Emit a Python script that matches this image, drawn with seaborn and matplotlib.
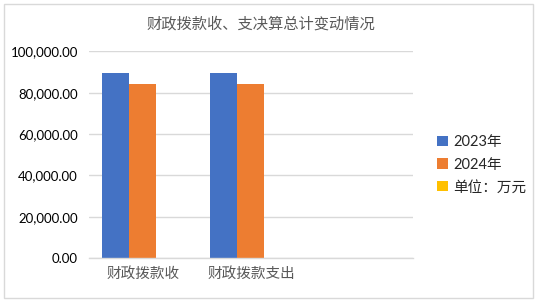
import matplotlib
matplotlib.use("Agg")
import matplotlib.pyplot as plt
import seaborn as sns
import pandas as pd
import numpy as np
from matplotlib.ticker import FuncFormatter, MultipleLocator
from matplotlib.patches import Rectangle

categories = ["财政拨款收", "财政拨款支出", " "]
series_names = ["2023年", "2024年", "单位：万元"]
values_2023 = [89800, 89800, np.nan]
values_2024 = [84400, 84400, np.nan]
values_unit = [np.nan, np.nan, np.nan]
colors = ["#4472C4", "#ED7D31", "#FFC000"]

rows = []
for name, vals in zip(series_names, [values_2023, values_2024, values_unit]):
    for c, v in zip(categories, vals):
        rows.append({"category": c, "series": name, "value": v})
df = pd.DataFrame(rows)

sns.set_theme(style="white")
plt.rcParams["font.family"] = ["Lato", "Noto Sans CJK SC", "DejaVu Sans"]

fig = plt.figure(figsize=(5.37, 3.02), dpi=100)
ax = fig.add_axes([0.1657, 0.1457, 0.769 - 0.1657, 0.8295 - 0.1457])

sns.barplot(data=df, x="category", y="value", hue="series", order=categories,
            hue_order=series_names, palette=colors, width=0.75, gap=0,
            saturation=1, ax=ax, legend=True, errorbar=None, linewidth=0)

ax.set_ylim(0, 100000)
ax.set_xlim(-0.5, 2.5)
ax.yaxis.set_major_locator(MultipleLocator(20000))
ax.yaxis.set_major_formatter(FuncFormatter(lambda v, p: f"{v:,.2f}"))
ax.grid(axis="y", color="#D9D9D9", linewidth=1)
ax.set_axisbelow(True)
for s in ["top", "right", "left"]:
    ax.spines[s].set_visible(False)
ax.spines["bottom"].set_color("#D9D9D9")
ax.spines["bottom"].set_linewidth(1)
ax.set_xlabel("")
ax.set_ylabel("")
ax.tick_params(axis="y", length=0, labelsize=9.5, labelcolor="#000000", pad=8)
ax.tick_params(axis="x", length=0, labelsize=10.5, labelcolor="#595959", pad=6)
for t in ax.get_xticklabels():
    t.set_family(["Noto Sans CJK SC"])

handles, labels = ax.get_legend_handles_labels()
leg = fig.legend(handles, labels, loc="center left", bbox_to_anchor=(0.79, 0.455),
                 frameon=False, fontsize=10.5, handlelength=0.7, handleheight=0.7,
                 handletextpad=0.4, labelspacing=0.6)
ax.get_legend().remove()
for t in leg.get_texts():
    t.set_color("#262626")
for h in leg.legend_handles:
    h.set_linewidth(0)

fig.text(0.485, 0.92, "财政拨款收、支决算总计变动情况", ha="center", va="center",
         fontsize=11, color="#595959", family=["Noto Sans CJK SC"])

fig.patches.append(Rectangle((0.008, 0.013), 0.984, 0.974, transform=fig.transFigure,
                             fill=False, edgecolor="#D9D9D9", linewidth=1))

fig.savefig("out.png", dpi=100)
